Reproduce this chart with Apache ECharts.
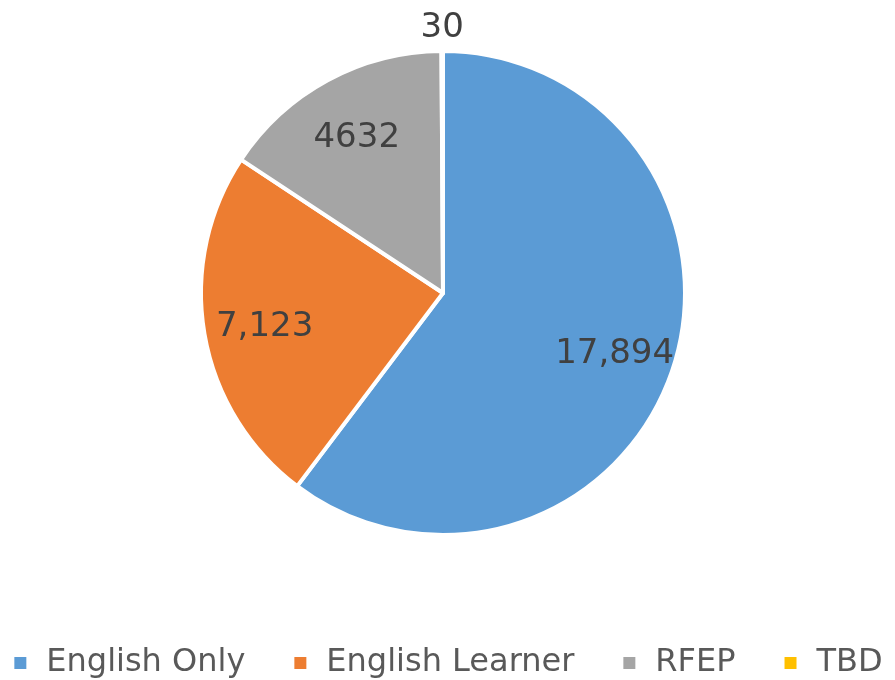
<!DOCTYPE html>
<html lang="en">
<head>
    <meta charset="UTF-8">
    <title>Students by language status</title>
    <script src="https://cdn.jsdelivr.net/npm/echarts@6.0.0/dist/echarts.min.js"></script>
    <style>
        html, body { margin: 0; padding: 0; background: #fff; }
        #chart { width: 895px; height: 680px; }
    </style>
</head>
<body>
    <div id="chart"></div>
    <script>
        // data
        const categories = ['English Only', 'English Learner', 'RFEP', 'TBD'];
        const values = [17894, 7123, 4632, 30];
        const labelTexts = ['17,894', '7,123', '4632', '30'];
        const colors = ['#5B9BD5', '#ED7D31', '#A5A5A5', '#FFC000'];

        const center = [443, 293];
        const R = 242;
        const font = 'DejaVu Sans';

        // labels inside the slices and the one outside (TBD)
        function labelData(inside) {
            return categories.map((name, i) => {
                const show = inside ? i < 3 : i === 3;
                return {
                    name: name,
                    value: values[i],
                    label: { show: show, formatter: labelTexts[i] }
                };
            });
        }

        const labelSeries = (radius, inside) => ({
            type: 'pie',
            center: center,
            radius: radius,
            startAngle: 90,
            silent: true,
            itemStyle: { color: 'transparent', borderWidth: 0 },
            emphasis: { disabled: true },
            labelLine: { show: false },
            label: {
                position: 'inside',
                color: '#404040',
                fontFamily: font,
                fontSize: 34,
                offset: [0, 4]
            },
            data: labelData(inside)
        });

        const chart = echarts.init(document.getElementById('chart'));
        chart.setOption({
            animation: false,
            color: colors,
            legend: {
                data: categories,
                top: 641,
                left: 'center',
                icon: 'rect',
                itemWidth: 14,
                itemHeight: 14,
                itemGap: 47,
                selectedMode: false,
                textStyle: {
                    color: '#595959',
                    fontFamily: font,
                    fontSize: 32,
                    lineHeight: 34,
                    padding: [0, 0, 0, 14]
                }
            },
            series: [
                {
                    type: 'pie',
                    center: center,
                    radius: [0, R],
                    startAngle: 90,
                    itemStyle: { borderColor: '#fff', borderWidth: 4 },
                    label: { show: false },
                    labelLine: { show: false },
                    emphasis: { disabled: true },
                    data: categories.map((name, i) => ({ name: name, value: values[i] }))
                },
                labelSeries([114, R], true),
                labelSeries([R, 290], false)
            ]
        });
    </script>
</body>
</html>
